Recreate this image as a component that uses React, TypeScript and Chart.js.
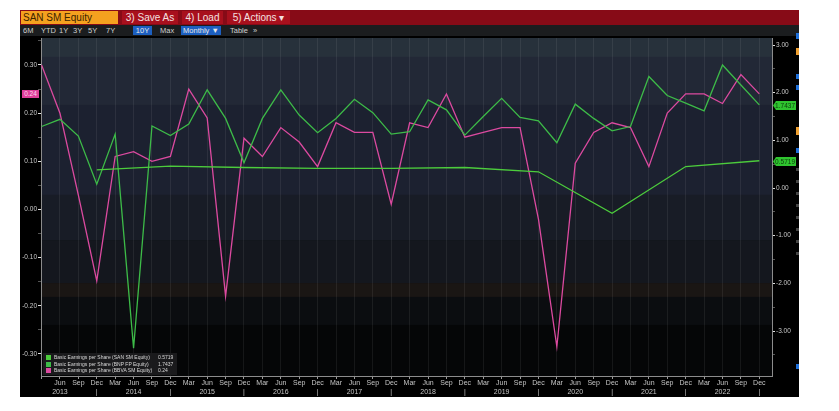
import React, { useEffect, useRef } from "react";
import { Chart, registerables } from "chart.js";

Chart.register(...registerables);

// ---- data ----
const monthNames = ["Mar", "Jun", "Sep", "Dec"];
const yearLabels = ["2013", "2014", "2015", "2016", "2017", "2018", "2019", "2020", "2021", "2022"];
// quarterly: Mar 2013 (index 0) ... Dec 2022 (index 39)
const bnpEps = [
  1.29, 1.44, 1.09, 0.08, 1.13, -3.36, 1.3, 1.1, 1.34, 2.06,
  1.46, 0.53, 1.46, 2.06, 1.53, 1.16, 1.46, 1.86, 1.58, 1.13,
  1.18, 1.85, 1.64, 1.11, 1.5, 1.88, 1.48, 1.41, 0.95, 1.76,
  1.46, 1.2, 1.29, 2.34, 1.94, 1.78, 1.62, 2.58, 2.16, 1.7437,
];
const bbvaEps = [
  0.3, 0.2, 0.03, -0.148, 0.11, 0.12, 0.1, 0.11, 0.25, 0.19,
  -0.18, 0.148, 0.11, 0.17, 0.14, 0.089, 0.18, 0.16, 0.16, 0.011,
  0.18, 0.17, 0.24, 0.15, 0.16, 0.17, 0.17, -0.02, -0.285, 0.096,
  0.16, 0.18, 0.17, 0.089, 0.2, 0.24, 0.24, 0.22, 0.28, 0.24,
];
// annual (December quarters)
const sanQuarterIdx = [3, 7, 11, 15, 19, 23, 27, 31, 35, 39];
const sanEps = [0.38, 0.46, 0.43, 0.41, 0.41, 0.43, 0.34, -0.53, 0.45, 0.5719];

const leftTicks = [-0.3, -0.25, -0.2, -0.15, -0.1, -0.05, 0, 0.05, 0.1, 0.15, 0.2, 0.25, 0.3, 0.35];
const rightTicks = [-3.5, -3, -2.5, -2, -1.5, -1, -0.5, 0, 0.5, 1, 1.5, 2, 2.5, 3];

const seriesNames = [
  "Basic Earnings per Share (SAN SM Equity)",
  "Basic Earnings per Share (BNP FP Equity)",
  "Basic Earnings per Share (BBVA SM Equity)",
];
const lastValues = ["0.5719", "1.7437", "0.24"];

const SAN_COLOR = "#4ccc3c";
const BNP_COLOR = "#3dbb48";
const BBVA_COLOR = "#dc4aa0";

const bands = [
  [0, 0.056, "#27313b"],
  [0.056, 0.198, "#222836"],
  [0.198, 0.464, "#1c2130"],
  [0.464, 0.598, "#181c26"],
  [0.598, 0.725, "#14171e"],
  [0.725, 0.766, "#1a1614"],
  [0.766, 0.849, "#0b0d10"],
  [0.849, 1, "#050607"],
] as const;

const bandPlugin = {
  id: "bands",
  beforeDraw(chart: any) {
    const { ctx, chartArea } = chart;
    const h = chartArea.bottom - chartArea.top;
    ctx.save();
    for (const [a, b, c] of bands) {
      ctx.fillStyle = c;
      ctx.fillRect(chartArea.left, chartArea.top + a * h, chartArea.right - chartArea.left, (b - a) * h + 0.5);
    }
    ctx.restore();
  },
};

const isMajor = (v: number, step: number) => Math.abs(v / step - Math.round(v / step)) < 1e-6;

function EpsChart() {
  const ref = useRef<HTMLCanvasElement | null>(null);
  useEffect(() => {
    if (!ref.current) return;
    const font = { family: "Liberation Sans, Arial, sans-serif", size: 7, lineHeight: 1.2 };
    const yFont = { family: "Liberation Sans, Arial, sans-serif", size: 6.5, lineHeight: 1.2 };
    const chart = new Chart(ref.current, {
      type: "line",
      data: {
        datasets: [
          {
            label: seriesNames[0],
            data: sanQuarterIdx.map((q, i) => ({ x: q, y: sanEps[i] })),
            borderColor: SAN_COLOR,
            borderWidth: 1.3,
            pointRadius: 0,
            tension: 0,
            yAxisID: "yR",
          },
          {
            label: seriesNames[1],
            data: bnpEps.map((v, i) => ({ x: i, y: v })),
            borderColor: BNP_COLOR,
            borderWidth: 1.3,
            pointRadius: 0,
            tension: 0,
            yAxisID: "yR",
          },
          {
            label: seriesNames[2],
            data: bbvaEps.map((v, i) => ({ x: i, y: v })),
            borderColor: BBVA_COLOR,
            borderWidth: 1.3,
            pointRadius: 0,
            tension: 0,
            yAxisID: "yL",
          },
        ],
      },
      options: {
        animation: false,
        responsive: false,
        maintainAspectRatio: false,
        layout: { padding: { top: 2, left: 0, right: 0, bottom: 0 } },
        plugins: { legend: { display: false }, tooltip: { enabled: false } },
        scales: {
          x: {
            type: "linear",
            min: -0.03,
            max: 39.69,
            afterBuildTicks: (s: any) => {
              s.ticks = bnpEps.map((_, i) => ({ value: i }));
            },
            afterFit: (s: any) => {
              s.height = 21;
              s.paddingLeft = 0;
              s.paddingRight = 0;
            },
            ticks: {
              autoSkip: false,
              maxRotation: 0,
              minRotation: 0,
              padding: 0,
              color: "#c4c4c4",
              font,
              callback: (v: any) => {
                const i = Math.round(Number(v));
                if (i === 0) return "";
                const m = monthNames[i % 4];
                if (m === "Jun") return [m, yearLabels[Math.floor(i / 4)]];
                if (m === "Dec") return [m, "|"];
                return m;
              },
            },
            grid: {
              drawOnChartArea: true,
              color: "rgba(255,255,255,0.07)",
              tickLength: 3,
              tickColor: "#9a9a9a",
            },
            border: { display: true, color: "#8c8c8c", width: 1 },
          },
          yL: {
            type: "linear",
            position: "left",
            min: -0.3457,
            max: 0.356,
            afterBuildTicks: (s: any) => {
              s.ticks = leftTicks.map((v) => ({ value: v }));
            },
            afterFit: (s: any) => {
              s.width = 21;
              s.paddingTop = 0;
              s.paddingBottom = 0;
            },
            ticks: {
              padding: 1,
              color: "#c8c8c8",
              font: yFont,
              callback: (v: any) => (isMajor(Number(v), 0.1) ? Number(v).toFixed(2) : ""),
            },
            grid: {
              drawOnChartArea: false,
              tickLength: 3,
              tickColor: (c: any) => (isMajor(c.tick.value, 0.1) ? "#e0e0e0" : "#555"),
            },
            border: { display: true, color: "#8c8c8c", width: 1 },
          },
          yR: {
            type: "linear",
            position: "right",
            min: -3.944,
            max: 3.147,
            afterBuildTicks: (s: any) => {
              s.ticks = rightTicks.map((v) => ({ value: v }));
            },
            afterFit: (s: any) => {
              s.width = 24;
              s.paddingTop = 0;
              s.paddingBottom = 0;
            },
            ticks: {
              padding: 1,
              color: "#c8c8c8",
              font: yFont,
              callback: (v: any) => (isMajor(Number(v), 1) ? Number(v).toFixed(2) : ""),
            },
            grid: {
              drawOnChartArea: false,
              tickLength: 3,
              tickColor: (c: any) => (isMajor(c.tick.value, 1) ? "#e0e0e0" : "#555"),
            },
            border: { display: true, color: "#8c8c8c", width: 1 },
          },
        },
      },
      plugins: [bandPlugin],
    } as any);
    return () => chart.destroy();
  }, []);
  return (
    <canvas
      ref={ref}
      width={776}
      height={361}
      style={{ position: "absolute", left: 20, top: 36, width: 776, height: 361 }}
    />
  );
}

const abs = (l: number, t: number, w: number, h: number, extra: React.CSSProperties = {}): React.CSSProperties => ({
  position: "absolute",
  left: l,
  top: t,
  width: w,
  height: h,
  boxSizing: "border-box",
  ...extra,
});

const sans = "Liberation Sans, Arial, sans-serif";

export default function App() {
  const toolbar: [string, number][] = [
    ["6M", 23],
    ["YTD", 41],
    ["1Y", 59],
    ["3Y", 73],
    ["5Y", 88],
    ["7Y", 106],
    ["Max", 160],
    ["Table", 230],
    ["»", 253],
  ];
  return (
    <div style={abs(0, 0, 839, 411, { background: "#ffffff", overflow: "hidden", fontFamily: sans })}>
      {/* red title bar */}
      <div style={abs(20, 10, 779, 15, { background: "#870b17" })} />
      <div style={abs(21, 11, 97, 13, { background: "#f5a11f", color: "#3b2400", fontSize: 10, lineHeight: "13px", paddingLeft: 2 })}>
        SAN SM Equity
      </div>
      <div style={abs(122, 11, 56, 13, { background: "#a8101d", color: "#f4e0e0", fontSize: 10, lineHeight: "13px", textAlign: "center" })}>
        3) Save As
      </div>
      <div style={abs(182, 11, 41, 13, { background: "#a8101d", color: "#f4e0e0", fontSize: 10, lineHeight: "13px", textAlign: "center" })}>
        4) Load
      </div>
      <div style={abs(227, 11, 63, 13, { background: "#a8101d", color: "#f4e0e0", fontSize: 10, lineHeight: "13px", textAlign: "center" })}>
        5) Actions ▾
      </div>
      {/* toolbar */}
      <div style={abs(20, 25, 779, 11, { background: "#1b1d1f" })} />
      {toolbar.map(([t, x]) => (
        <div key={t} style={{ position: "absolute", left: x, top: 26, height: 9, color: "#cfcfcf", fontSize: 7.5, lineHeight: "9px", whiteSpace: "nowrap" }}>
          {t}
        </div>
      ))}
      <div style={abs(133, 26, 19, 9, { background: "#1c5fc0", color: "#e8e8e8", fontSize: 7.5, lineHeight: "9px", textAlign: "center" })}>
        10Y
      </div>
      <div style={abs(181, 26, 40, 9, { background: "#1c5fc0", color: "#e8e8e8", fontSize: 7.5, lineHeight: "9px", textAlign: "center" })}>
        Monthly ▼
      </div>
      {/* chart frame */}
      <div style={abs(20, 36, 779, 361, { background: "#000000" })} />
      <EpsChart />
      {/* right side icons strip */}
      {[
        [33, 6, "#1e6fd9"],
        [48, 7, "#f0a030"],
        [74, 5, "#1e6fd9"],
        [85, 5, "#1e6fd9"],
        [127, 8, "#f0a030"],
        [148, 5, "#1e6fd9"],
        [168, 3, "#444"],
        [180, 3, "#444"],
        [192, 3, "#444"],
        [204, 3, "#444"],
        [216, 3, "#444"],
        [228, 3, "#444"],
        [240, 3, "#444"],
        [252, 3, "#444"],
        [364, 5, "#1e6fd9"],
      ].map(([y, h, c], i) => (
        <div key={i} style={abs(796, y as number, 3, h as number, { background: c as string })} />
      ))}
      {/* last value tags */}
      <div style={abs(22, 90, 17, 8, { background: "#df3f9a", color: "#ffd6ee", fontSize: 6.5, lineHeight: "8px", textAlign: "center" })}>
        {lastValues[2]}
      </div>
      <div
        style={abs(773, 101, 23, 9, {
          background: "#2fc42f",
          color: "#0c420c",
          fontSize: 6.5,
          lineHeight: "9px",
          textAlign: "right",
          paddingRight: 1,
          clipPath: "polygon(3px 0, 100% 0, 100% 100%, 3px 100%, 0 50%)",
        })}
      >
        {lastValues[1]}
      </div>
      <div
        style={abs(773, 157, 23, 9, {
          background: "#2fc42f",
          color: "#0c420c",
          fontSize: 6.5,
          lineHeight: "9px",
          textAlign: "right",
          paddingRight: 1,
          clipPath: "polygon(3px 0, 100% 0, 100% 100%, 3px 100%, 0 50%)",
        })}
      >
        {lastValues[0]}
      </div>
      {/* legend */}
      <div style={abs(43, 353, 134, 22, { background: "rgba(28,28,30,0.92)" })}>
        {seriesNames.map((n, i) => (
          <div key={n} style={abs(2, 1 + i * 6.7, 130, 7, { fontSize: 5, lineHeight: "7px", color: "#d8d8d8", whiteSpace: "nowrap" })}>
            <span
              style={{
                position: "absolute",
                left: 1,
                top: 1,
                width: 5,
                height: 5,
                background: [SAN_COLOR, BNP_COLOR, BBVA_COLOR][i],
              }}
            />
            <span style={{ position: "absolute", left: 9, top: 0 }}>{n}</span>
            <span style={{ position: "absolute", left: 113, top: 0 }}>{lastValues[i]}</span>
          </div>
        ))}
      </div>
    </div>
  );
}
